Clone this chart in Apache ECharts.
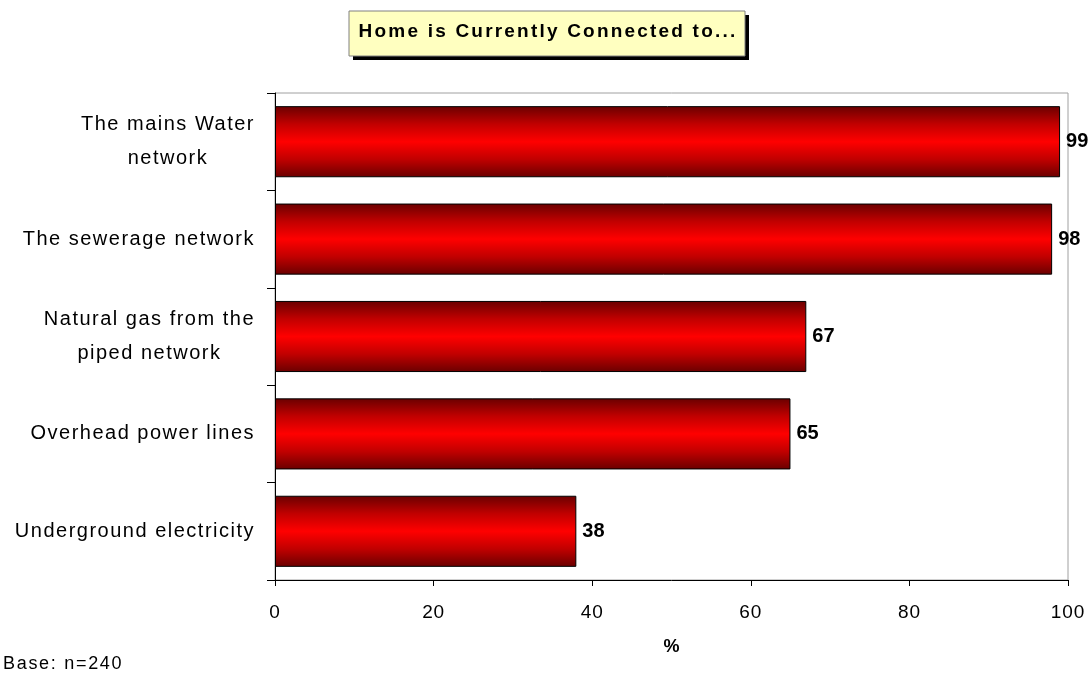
<!DOCTYPE html>
<html>
<head>
<meta charset="utf-8">
<script src="https://cdn.jsdelivr.net/npm/echarts@6/dist/echarts.min.js"></script>
<style>
  html, body { margin: 0; padding: 0; background: #ffffff; }
  #chart { width: 1091px; height: 673px; }
</style>
</head>
<body>
<div id="chart"></div>
<script>
// Connection categories, bottom to top as drawn on the category axis
const categories = [
  'Underground electricity',
  'Overhead power lines',
  'Natural gas from the\npiped network',
  'The sewerage network',
  'The mains Water\nnetwork'
];
// Share of homes connected (%)
const values = [38, 65, 67, 98, 99];
// Value axis ticks
const xTicks = [0, 20, 40, 60, 80, 100];

const FONT = '"Liberation Sans", Arial, sans-serif';

// Letter tracking per text style (weight + size), applied when drawing and
// when measuring so that alignment stays correct
const TRACKING = {
  'bold 19': 2.2,   // title box
  'normal 20': 1.5, // category labels
  'normal 19': 0.9, // value axis ticks
  'normal 18': 1.7, // base note
  'bold 20': 0,     // bar values
  'bold 18': 0      // axis name
};
function trackingFor(font) {
  const m = /(\d+(?:\.\d+)?)px/.exec(font || '');
  if (!m) return '0px';
  const w = /bold|700/.test(font) ? 'bold' : 'normal';
  const v = TRACKING[w + ' ' + Math.round(parseFloat(m[1]))];
  return (v || 0) + 'px';
}
const proto = CanvasRenderingContext2D.prototype;
const origFillText = proto.fillText;
const origMeasureText = proto.measureText;
proto.fillText = function () { this.letterSpacing = trackingFor(this.font); return origFillText.apply(this, arguments); };
proto.measureText = function () { this.letterSpacing = trackingFor(this.font); return origMeasureText.apply(this, arguments); };

const chart = echarts.init(document.getElementById('chart'), null, { renderer: 'canvas' });

// Category labels: block right-aligned to the axis, wrapped lines centred within it
function formatCategory(v) {
  return v.split('\n').map(function (line) { return '{a|' + line + '}'; }).join('\n');
}

const barFill = new echarts.graphic.LinearGradient(0, 0, 0, 1, [
  { offset: 0, color: '#6a0000' },
  { offset: 0.25, color: '#c00000' },
  { offset: 0.5, color: '#ff0000' },
  { offset: 0.75, color: '#c00000' },
  { offset: 1, color: '#6a0000' }
]);

chart.setOption({
  animation: false,
  backgroundColor: '#ffffff',
  grid: {
    left: 275, right: 23, top: 93, bottom: 93,
    show: true, borderColor: '#a0a0a0', borderWidth: 1, backgroundColor: '#ffffff'
  },
  graphic: [
    { type: 'rect', shape: { x: 353, y: 15, width: 396, height: 45 }, style: { fill: '#000000' } },
    { type: 'rect', shape: { x: 349, y: 11, width: 396, height: 45 },
      style: { fill: '#ffffc0', stroke: '#808080', lineWidth: 1 } },
    { type: 'text', x: 548, y: 32,
      style: { text: 'Home is Currently Connected to...', fill: '#000000',
        font: 'bold 19px ' + FONT, align: 'center', verticalAlign: 'middle' } },
    { type: 'text', x: 3, y: 664,
      style: { text: 'Base: n=240', fill: '#000000', font: '18px ' + FONT,
        align: 'left', verticalAlign: 'middle' } }
  ],
  xAxis: {
    type: 'value', min: xTicks[0], max: xTicks[xTicks.length - 1], interval: 20,
    name: '%', nameLocation: 'middle', nameGap: 58,
    nameTextStyle: { fontFamily: FONT, fontSize: 18, fontWeight: 'bold', color: '#000' },
    axisLine: { show: true, lineStyle: { color: '#000', width: 1 } },
    axisTick: { show: true, length: 6, lineStyle: { color: '#000' } },
    axisLabel: { fontFamily: FONT, fontSize: 19, color: '#000', margin: 23 },
    splitLine: { show: false }
  },
  yAxis: {
    type: 'category', data: categories,
    axisLine: { show: true, lineStyle: { color: '#000', width: 1 } },
    axisTick: { show: true, length: 8, lineStyle: { color: '#000' } },
    axisLabel: {
      margin: 20, align: 'right', formatter: formatCategory,
      rich: {
        a: { fontFamily: FONT, fontSize: 20, color: '#000', lineHeight: 34, align: 'center' }
      }
    },
    splitLine: { show: false }
  },
  series: [{
    type: 'bar', data: values, barWidth: '73%',
    itemStyle: { color: barFill, borderColor: '#000', borderWidth: 1 },
    label: {
      show: true, position: 'right', distance: 6, color: '#000',
      fontFamily: FONT, fontSize: 20, fontWeight: 'bold'
    }
  }]
});
</script>
</body>
</html>
